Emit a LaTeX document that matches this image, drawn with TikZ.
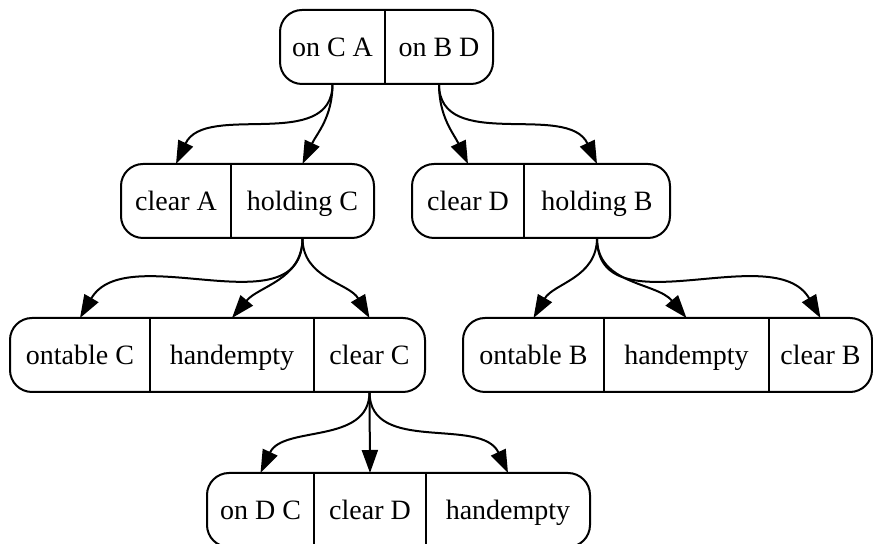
\documentclass[tikz,border=0pt]{standalone}
\usepackage{fontspec}
\setmainfont{Liberation Serif}
\usetikzlibrary{arrows.meta}

\tikzset{
  fld/.style={minimum width=#1, minimum height=37pt, inner sep=0pt, outer sep=0pt,
    text height=10pt, text depth=0pt},
  rec/.style={rounded corners=11pt},
  link/.style={-{Triangle[length=11.5pt,width=8pt]}},
}

\begin{document}
\begin{tikzpicture}[x=0.5pt, y=-0.5pt, line width=1pt, font=\fontsize{14}{16}\selectfont]
  \useasboundingbox (0,0) rectangle (873,544);
  % goal
  \node[fld=52.5pt] (onCA) at (332.5,47) {on C A};
  \node[fld=54pt] (onBD) at (439,47) {on B D};
  \draw[rec] (onCA.north west) rectangle (onBD.south east);
  \draw (onCA.north east) -- (onCA.south east);
  % second row
  \node[fld=55pt] (clearA) at (176,201) {clear A};
  \node[fld=71.5pt] (holdingC) at (302.5,201) {holding C};
  \draw[rec] (clearA.north west) rectangle (holdingC.south east);
  \draw (clearA.north east) -- (clearA.south east);
  \node[fld=56pt] (clearD) at (468,201) {clear D};
  \node[fld=73pt] (holdingB) at (597,201) {holding B};
  \draw[rec] (clearD.north west) rectangle (holdingB.south east);
  \draw (clearD.north east) -- (clearD.south east);
  % third row
  \node[fld=70pt] (ontableC) at (80,355) {ontable C};
  \node[fld=82pt] (handemptyC) at (232,355) {handempty};
  \node[fld=55.5pt] (clearC) at (369.5,355) {clear C};
  \draw[rec] (ontableC.north west) rectangle (clearC.south east);
  \draw (ontableC.north east) -- (ontableC.south east);
  \draw (handemptyC.north east) -- (handemptyC.south east);
  \node[fld=70.5pt] (ontableB) at (533.5,355) {ontable B};
  \node[fld=82.5pt] (handemptyB) at (686.5,355) {handempty};
  \node[fld=51.5pt] (clearB) at (820.5,355) {clear B};
  \draw[rec] (ontableB.north west) rectangle (clearB.south east);
  \draw (ontableB.north east) -- (ontableB.south east);
  \draw (handemptyB.north east) -- (handemptyB.south east);
  % last row
  \node[fld=53.5pt] (onDC) at (260.5,510) {on D C};
  \node[fld=56pt] (clearDD) at (370,510) {clear D};
  \node[fld=82pt] (handemptyD) at (508,510) {handempty};
  \draw[rec] (onDC.north west) rectangle (handemptyD.south east);
  \draw (onDC.north east) -- (onDC.south east);
  \draw (clearDD.north east) -- (clearDD.south east);
  % links
  \draw[link] (onCA.south) to[out=-90,in=65] (clearA.north);
  \draw[link] (onCA.south) to[out=-90,in=65] (holdingC.north);
  \draw[link] (onBD.south) to[out=-90,in=115] (clearD.north);
  \draw[link] (onBD.south) to[out=-90,in=115] (holdingB.north);
  \draw[link] (holdingC.south) to[out=-90,in=60] (ontableC.north);
  \draw[link] (holdingC.south) to[out=-90,in=50] (handemptyC.north);
  \draw[link] (holdingC.south) to[out=-90,in=120] (clearC.north);
  \draw[link] (holdingB.south) to[out=-90,in=60] (ontableB.north);
  \draw[link] (holdingB.south) to[out=-90,in=130] (handemptyB.north);
  \draw[link] (holdingB.south) to[out=-90,in=120] (clearB.north);
  \draw[link] (clearC.south) to[out=-90,in=65] (onDC.north);
  \draw[link] (clearC.south) -- (clearDD.north);
  \draw[link] (clearC.south) to[out=-90,in=115] (handemptyD.north);
\end{tikzpicture}
\end{document}
